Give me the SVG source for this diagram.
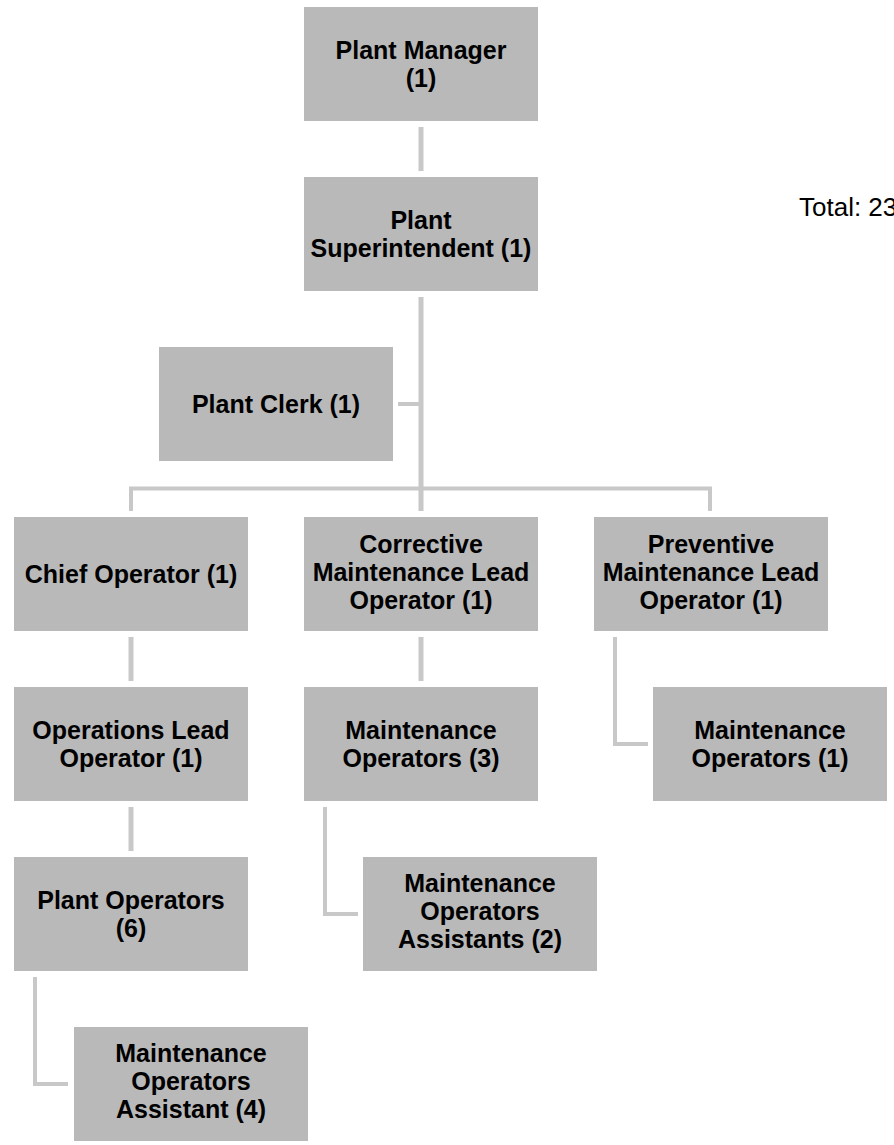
<svg xmlns="http://www.w3.org/2000/svg" width="894" height="1145" viewBox="0 0 894 1145">
  <style>
    .box { fill: #b9b9b9; }
    .lbl { font-family: "Liberation Sans", Arial, sans-serif; font-weight: bold; font-size: 25px; fill: #000; text-anchor: middle; }
    .link { fill: none; stroke: #c8c8c8; stroke-width: 5; stroke-linejoin: miter; }
    .thin { stroke-width: 4; }
    .note { font-family: "Liberation Sans", Arial, sans-serif; font-size: 26px; fill: #000; }
  </style>
  <rect width="894" height="1145" fill="#ffffff"/>

  <!-- reporting lines -->
  <g id="connectors">
    <line class="link" x1="421" y1="127" x2="421" y2="171" stroke="#bababa"/>
    <line class="link" x1="421" y1="297" x2="421" y2="511"/>
    <line class="link thin" x1="398" y1="404" x2="421" y2="404"/>
    <path class="link thin" d="M131,511 V488.5 H710 V511"/>
    <line class="link" x1="131" y1="637" x2="131" y2="681"/>
    <line class="link" x1="131" y1="807" x2="131" y2="851"/>
    <line class="link" x1="421" y1="637" x2="421" y2="681"/>
    <path class="link thin" d="M325,807 V914 H358"/>
    <path class="link thin" d="M615,637 V744 H648"/>
    <path class="link thin" d="M35,977 V1084 H68"/>
  </g>

  <g id="plant-manager">
    <rect class="box" x="304" y="7" width="234" height="114"/>
    <text class="lbl" x="421" y="59">Plant Manager</text>
    <text class="lbl" x="421" y="87">(1)</text>
  </g>

  <g id="plant-superintendent">
    <rect class="box" x="304" y="177" width="234" height="114"/>
    <text class="lbl" x="421" y="229">Plant</text>
    <text class="lbl" x="421" y="257">Superintendent (1)</text>
  </g>

  <g id="plant-clerk">
    <rect class="box" x="159" y="347" width="234" height="114"/>
    <text class="lbl" x="276" y="413">Plant Clerk (1)</text>
  </g>

  <g id="chief-operator">
    <rect class="box" x="14" y="517" width="234" height="114"/>
    <text class="lbl" x="131" y="583">Chief Operator (1)</text>
  </g>

  <g id="corrective-lead">
    <rect class="box" x="304" y="517" width="234" height="114"/>
    <text class="lbl" x="421" y="553">Corrective</text>
    <text class="lbl" x="421" y="581">Maintenance Lead</text>
    <text class="lbl" x="421" y="609">Operator (1)</text>
  </g>

  <g id="preventive-lead">
    <rect class="box" x="594" y="517" width="234" height="114"/>
    <text class="lbl" x="711" y="553">Preventive</text>
    <text class="lbl" x="711" y="581">Maintenance Lead</text>
    <text class="lbl" x="711" y="609">Operator (1)</text>
  </g>

  <g id="operations-lead">
    <rect class="box" x="14" y="687" width="234" height="114"/>
    <text class="lbl" x="131" y="739">Operations Lead</text>
    <text class="lbl" x="131" y="767">Operator (1)</text>
  </g>

  <g id="maintenance-operators-3">
    <rect class="box" x="304" y="687" width="234" height="114"/>
    <text class="lbl" x="421" y="739">Maintenance</text>
    <text class="lbl" x="421" y="767">Operators (3)</text>
  </g>

  <g id="maintenance-operators-1">
    <rect class="box" x="653" y="687" width="234" height="114"/>
    <text class="lbl" x="770" y="739">Maintenance</text>
    <text class="lbl" x="770" y="767">Operators (1)</text>
  </g>

  <g id="plant-operators">
    <rect class="box" x="14" y="857" width="234" height="114"/>
    <text class="lbl" x="131" y="909">Plant Operators</text>
    <text class="lbl" x="131" y="937">(6)</text>
  </g>

  <g id="maintenance-assistants-2">
    <rect class="box" x="363" y="857" width="234" height="114"/>
    <text class="lbl" x="480" y="892">Maintenance</text>
    <text class="lbl" x="480" y="920">Operators</text>
    <text class="lbl" x="480" y="948">Assistants (2)</text>
  </g>

  <g id="maintenance-assistant-4">
    <rect class="box" x="74" y="1027" width="234" height="114"/>
    <text class="lbl" x="191" y="1062">Maintenance</text>
    <text class="lbl" x="191" y="1090">Operators</text>
    <text class="lbl" x="191" y="1118">Assistant (4)</text>
  </g>

  <text class="note" x="799" y="216">Total: 23</text>
</svg>
